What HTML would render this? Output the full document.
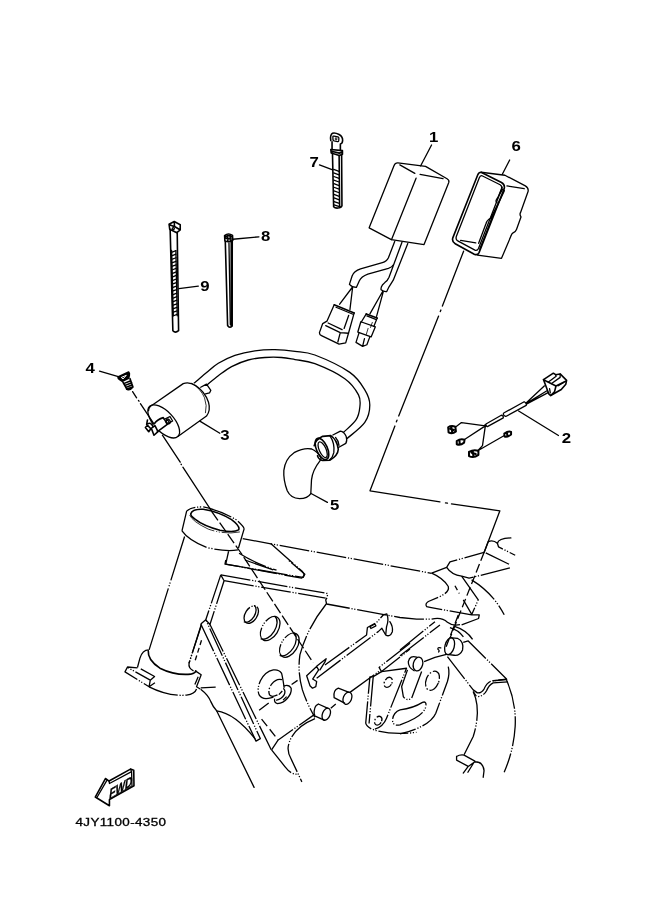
<!DOCTYPE html>
<html lang="en"><head><meta charset="utf-8"><title>4JY1100-4350 Electrical 2</title>
<style>
html,body{margin:0;padding:0;background:#fff;}
body{width:661px;height:913px;overflow:hidden;}
svg{display:block;will-change:transform;}
svg path,svg ellipse,svg circle{fill:none;stroke:#000;stroke-width:1.3;stroke-linecap:round;stroke-linejoin:round;}
svg .f{fill:#fff;}
svg .k{fill:#000;}
svg .t{stroke-width:0.8;}
svg .b{stroke-width:1.6;}
svg .p{stroke-dasharray:30 1.8 1.2 1.6 1.2 1.8;stroke-linecap:butt;}
svg .d{stroke-dasharray:5 3;stroke-linecap:butt;}
svg text{font-family:"Liberation Sans","DejaVu Sans",sans-serif;fill:#000;stroke:none;}
svg .n{font-weight:bold;font-size:14px;}
svg .code{font-size:10.5px;stroke:#000;stroke-width:.3px;}
svg .fwd{font-weight:bold;font-size:14.5px;stroke:#000;stroke-width:.4px;}
</style></head><body>
<svg width="661" height="913" viewBox="0 0 661 913">
<rect x="0" y="0" width="661" height="913" style="fill:#fff;stroke:none"/>
<g>
<path d="M393.98,165.68 Q395.11,162.69 397.85,162.81 L425.56,166.43 L447.03,178.79 Q449.52,180.16 448.77,182.41 L424.06,244.56 L391.36,239.69 L369.15,227.84 Z"/>
<path d="M399.85,164.93 L414.83,173.42 M420.07,174.42 L443.03,178.54 M416.07,178.16 L391.49,239.69"/>
<path d="M431.55,144.96 L420.57,165.93"/>
<path d="M319.47,164.93 L332.7,169.92"/>
</g>
<g>
<path class="b" d="M330.8,140.48 Q329.8,135.07 332.63,133.16 Q334.96,132.33 339.12,134.49 Q342.87,136.74 342.62,140.48 Q342.45,143.64 340.37,143.98 L340.37,149.8 M332.05,141.73 L332.05,149.22"/>
<path d="M332.88,136.74 Q332.88,135.9 334.13,136.07 L337.87,136.99 Q338.96,137.32 338.87,138.4 L338.71,140.9 Q338.54,141.73 337.46,141.56 L334.13,140.9 Q333.05,140.65 332.97,139.65 Z"/>
<path class="t" d="M337.04,138.15 L335.38,137.82 L335.21,139.48 L336.79,139.82 L336.88,138.98 L336.13,138.9"/>
<path class="b" d="M330.8,149.47 L342.45,150.63 L342.45,154.21 L339.29,155.46 L331.22,152.96 Z M331.47,151.3 L339.29,153.13 L342.28,152.13"/>
<path class="b" d="M332.47,152.96 L333.63,206.63 Q334.96,208.3 337.87,208.05 Q341.2,207.88 341.95,205.8 L341.62,154.63 M339.12,155.46 L339.62,207.46"/>
<path d="M333.71,169.35 L338.96,171.27 M333.71,172.93 L338.96,174.85 M333.8,176.51 L339.04,178.42 M333.8,180.09 L339.04,182 M333.88,183.67 L339.12,185.58 M333.88,187.24 L339.12,189.16 M333.96,190.82 L339.21,192.74 M333.96,194.4 L339.21,196.31 M334.05,197.98 L339.29,199.89 M334.05,201.56 L339.29,203.47 M334.13,204.97 L339.37,206.71"/>
</g>
<g>
<path d="M394.7,241.45 L388.41,257.79 Q386.84,261.42 382.36,262.63 L360.57,268.92 Q353.92,271.1 352.1,275.94 L349.44,284.41 Q352.1,287.44 356.34,287.44 L359.36,280.78 Q361.18,276.54 367.84,274.12 L388.41,268.44 Q392.28,267.23 393.25,265.05"/>
<path d="M401.97,242.29 L389.02,277.15 Q387.81,280.18 384.78,282.6 L382.36,285.02 Q380.54,287.44 381.15,289.86 Q383.57,291.92 386.6,291.67 L389.02,286.83 Q391.44,283.2 393.25,280.18 L407.78,243.5"/>
</g>
<g>
<path d="M352.36,287.26 L339.65,304.21 M352.6,287.5 L349.94,309.65 M382.62,291.5 L369.91,313.89 M383.22,291.86 L376.57,316.31"/>
<path class="b" d="M334.21,304.81 L354.18,312.92"/>
<path d="M336.02,307.23 L352.97,314.25"/>
<path d="M334.21,304.81 L326.94,321.15 L322.71,323.57 L319.44,332.65 Q319.44,334.7 321.5,335.67 L339.05,344.15 L345.7,342.93 L348.49,333.25 L354.18,312.92"/>
<path d="M328.15,322.97 L342.07,329.62 M325.73,325.63 L340.26,332.65 L348.49,333.25 M340.26,332.65 L337.84,341.97 M348.73,315.34 L344.13,328.41"/>
<path class="b" d="M366.28,313.89 L377.17,318.12"/>
<path d="M366.88,315.95 L376.32,319.58"/>
<path d="M366.28,313.89 L361.44,321.75 M377.17,318.12 L373.9,326.35"/>
<path d="M360.83,321.75 L375.36,326.84 L371.12,336.88 L357.81,332.04 Z"/>
<path d="M359.02,332.89 L355.99,342.33 L362.65,346.32 L366.88,344.75 L369.91,336.64 M364.46,338.7 L362.65,346.08"/>
<path class="t" d="M372.33,322.36 L370.51,327.44 M368.09,328.41 L366.28,334.46"/>
</g>
<g>
<path class="b" d="M481.08,172.25 L501.51,182.47 Q505.18,184.51 504.23,188.59 L479.04,252.59 Q477.68,255.58 474.27,254.22 L455.21,243.74 Q451.54,241.69 452.9,237.61 L477.68,174.98 Q478.77,172.25 481.08,172.25 Z"/>
<path d="M482.03,175.79 L500.14,184.78 Q502.46,186.14 501.51,189.14 L478.49,248.5 Q477.41,250.95 474.95,250.14 L458.21,241.15 Q455.35,239.65 456.3,236.52 L479.31,177.84 Q480.13,175.25 482.03,175.79 Z"/>
<path d="M481.08,172.25 L504.91,175.25 L525.33,185.87 Q528.87,187.91 528.06,191.59 L520.57,212.42 Q519.34,214.46 520.98,216.91 L516.48,229.44 Q515.8,231.48 513.08,232.84 Q511.44,234.21 511.04,235.84 L501.51,258.31 L477.41,255.04"/>
<path d="M506.95,185.87 L524.24,188.73 M460.66,240.33 L475.77,242.78"/>
<path d="M502.73,189.27 L496.47,199.49 Q495.38,201.53 497.01,202.48 M504.36,190.64 L491.97,217.19 M500.14,199.49 L490.61,218.28 Q486.94,219.91 485.85,223.99 L478.63,243.33 M492.93,215.14 L480.67,247.14 M491.29,219.91 L479.72,249.18 M502.19,187.23 L497.42,198.8"/>
<path d="M509.67,160 L502.32,174.3"/>
</g>
<g>
<path class="b" d="M169.06,224.26 L174.24,221.54 L180.23,224.8 L180.23,229.98 L176.82,232.7 L169.74,229.3 Z M174.24,221.81 L174.51,226.44 L179.95,229.7 M169.74,224.8 L174.51,226.71"/>
<circle cx="173.28" cy="228.62" r="1.09"/>
<path class="b" d="M170.15,229.3 L172.87,330.73 Q175.33,333.46 178.59,330.73 L177.23,232.7"/>
<path class="b" d="M171.51,250.67 L173.15,315.76"/>
<path d="M175.87,250.67 L177.23,315.76"/>
<path d="M172.19,252.03 L175.87,250.67 M172.33,255.57 L175.87,254.21 M172.33,259.11 L176.01,257.75 M172.47,262.66 L176.01,261.29 M172.47,266.2 L176.14,264.83 M172.6,269.74 L176.14,268.37 M172.6,273.28 L176.28,271.91 M172.74,276.82 L176.28,275.45 M172.87,280.36 L176.41,278.99 M172.87,283.9 L176.41,282.53 M173.01,287.44 L176.55,286.07 M173.01,290.98 L176.69,289.61 M173.15,294.52 L176.69,293.15 M173.15,298.06 L176.82,296.69 M173.28,301.6 L176.82,300.23 M173.28,305.14 L176.96,303.77 M173.42,308.68 L176.96,307.31 M173.42,312.22 L177.1,310.85 M173.56,315.76 L177.1,314.39"/>
<path d="M178.87,288.52 L198.34,286.07"/>
<path class="b" d="M224.61,235.7 Q228.29,232.43 232.51,235.42 L232.78,240.33 Q228.97,242.91 224.89,240.87 Z M225.57,236.79 Q228.7,234.74 231.69,236.79 M226.25,238.42 L231.42,238.96 M227.61,235.42 L227.88,240.87 M230.06,235.42 L230.33,241.14"/>
<path class="b" d="M225.3,241.55 L227.61,325.56 Q229.65,328.69 232.1,325.97 L232.24,240.87"/>
<path d="M228.97,242.91 L230.33,324.61"/>
<path d="M232.78,239.24 L258.93,236.79"/>
<path d="M231.69,241.41 L231.56,325.56" style="stroke-width:2.4"/>
</g>
<g>
<path d="M148.6,410.59 Q148.6,406.93 152.43,404.93 L183.21,383.63 Q189.04,381.3 195.7,385.63 Q205.18,391.95 208.51,402.27 Q210.84,410.59 206.51,416.08 L178.22,436.22"/>
<ellipse cx="163.74" cy="421.41" rx="20.64" ry="9.98" transform="rotate(47 163.74 421.41)"/>
<path d="M191.87,383.3 Q200.69,388.63 204.52,397.78 Q207.34,405.6 205.51,412.76" class="t"/>
<path d="M200.69,387.3 L206.51,384.13 L210.84,390.29 L209.51,392.95 L205.51,393.95"/>

<path d="M199.86,421.08 L219.83,433.23"/>
<path d="M99.51,371.15 L118.31,376.64"/>
<path class="b k" d="M117.98,376.98 L128.63,371.98 Q129.8,373.32 129.3,375.31 L128.63,378.31 L122.31,381.3 L119.64,379.64 Q117.98,378.64 117.98,376.98 Z"/>
<path style="stroke:#fff;stroke-width:1" d="M121.64,377.31 L126.3,375.31 L123.31,378.64 Z"/>
<path class="b" d="M122.97,382.3 L127.47,389.46 Q129.96,390.62 132.96,386.96 L129.96,378.64 M123.64,383.63 L130.79,380.64 M124.64,385.63 L131.63,382.64 M125.64,387.63 L132.29,384.8 M126.63,389.29 L132.79,386.63"/>
<path d="M162.41,435.22 L180.22,462.18 M181.05,464.18 L181.38,464.68 M182.88,467.17 L211.51,510.94"/>
</g>
<g>
<path d="M311.76,449 Q304.27,447.23 294.06,452.68 Q285.21,458.8 283.85,470.38 Q283.17,479.91 287.25,490.8 Q290.66,498.29 299.51,498.7 Q307.68,498.29 310.81,493.52 L311.49,479.91 Q312.44,470.38 319.93,460.85 Q321.57,458.8 320.61,457.03 Q317.48,451.59 311.76,449 Z"/>
<path class="b" d="M314.21,445.6 Q315.57,439.74 322.66,436.34 L330.82,435.66 Q336.95,439.74 338.31,449.27 Q337.9,455.67 329.74,460.3 L322.66,460.44 Q318.84,459.76 317.48,455.67"/>
<ellipse class="b" cx="321.97" cy="448.87" rx="5.45" ry="11.44" transform="rotate(-24 321.97 448.87)"/>
<ellipse cx="322.66" cy="449.68" rx="3.4" ry="8.44" transform="rotate(-24 322.66 449.68)"/>
<path d="M330.14,436.07 Q334.91,443.15 333.82,452.68 Q332.87,457.44 329.46,460.03"/>
<path d="M332.87,434.98 L340.36,431.16 Q344.17,431.57 346.21,436.61 Q347.44,440.7 345.8,443.42 L338.45,447.5 M335.59,437.43 Q338.45,440.42 338.99,445.33"/>
<path d="M311.08,493.52 L327.42,502.38"/>
</g>
<g>
<path d="M194.2,382.9 C196.3,381.2 202.6,375.8 206.6,372.5 C210.6,369.2 213.6,366.2 218.3,363.3 C223,360.4 228.8,357.4 234.9,355.3 C241,353.2 248.2,351.7 254.9,350.8 C261.6,349.9 268.2,349.6 274.9,349.7 C281.6,349.8 288.3,350.4 295,351.3 C301.7,352.2 305.8,351.5 314.9,355 C324,358.5 341.5,366.6 349.8,372.4 C358.1,378.2 361.5,384.5 364.8,389.9 C368.1,395.3 369.8,399.5 369.8,404.9 C369.8,410.3 368.6,416.8 364.8,422.4 C361,428 350.1,435.7 347.2,438.4"/><path d="M206.6,385.3 C208.6,383.7 214.1,378.9 218.3,375.8 C222.5,372.7 226.6,369.2 231.6,366.6 C236.6,364 242.6,361.5 248.2,360 C253.8,358.5 259.3,357.9 264.9,357.5 C270.4,357.1 276.5,357.1 281.5,357.5 C286.5,357.9 289.4,358.6 295,359.6 C300.6,360.6 306.6,360.5 314.9,363.7 C323.2,366.9 337.5,373.5 344.8,378.7 C352.1,383.9 356,390.1 358.5,394.9 C361,399.7 360.2,403.2 359.8,407.4 C359.4,411.6 358.7,415.8 356,419.9 C353.3,424 345.7,430.2 343.6,432.3"/>
</g>
<g>
<path d="M524.15,401.76 L503.72,413 Q502.29,415.04 505.76,416.47 L526.19,405.44 Q527,402.99 524.15,401.76 Z"/>
<path d="M501.27,415.24 L485.95,424.02 Q484.93,425.66 487.38,426.68 L503.31,417.9 Q503.72,415.65 501.27,415.24 Z"/>
<path d="M485.34,425.86 L461.44,422.59 L455.32,427.29 M485.34,425.86 L464.51,439.55 M485.34,425.86 L482.48,445.67 L477.78,450.78 L504.33,435.46"/>
<path style="stroke-width:2" d="M448.17,427.29 Q451.23,425.25 455.32,426.68 L455.93,431.38 Q452.25,434.44 448.58,432.4 Z M450.21,428.72 L453.89,429.95 M451.23,427.29 L452.25,432.4"/>
<path style="stroke-width:2" d="M456.75,440.98 Q460.42,438.52 464.51,439.75 L464.1,442.61 Q460.42,445.67 456.75,444.24 Z M459.4,440.16 L459.81,444.24"/>
<path style="stroke-width:2" d="M469,451.8 Q473.7,449.15 478.4,450.78 L478.4,454.86 Q473.7,458.54 469,456.09 Z M471.66,452.82 L475.74,454.05 M472.68,450.78 L473.49,456.91"/>
<path style="stroke-width:2" d="M504.33,433.62 Q508.42,430.76 511.07,431.99 L511.07,434.44 Q507.4,437.5 504.54,436.48 Z M506.99,432.81 L507.4,436.48"/>
<path d="M518.63,410.95 L558.46,435.46"/>
<circle class="k" cx="485.34" cy="425.66" r="0.82"/>
</g>
<g>
<path class="p" d="M181.98,530.78 L186.64,511.14 Q191.3,506.65 203.28,506.98 Q219.92,510.31 236.57,519.96 Q244.55,526.95 244.05,529.11 L237.9,549.92"/>
<path class="p" d="M181.98,530.78 Q188.31,539.93 206.61,547.42 Q224.92,551.91 237.9,549.92"/>
<path class="b" d="M190.8,513.64 Q192.47,508.65 203.28,509.31 Q218.26,511.64 231.57,519.63 Q240.73,526.62 238.56,529.95 Q234.07,532.94 219.92,530.28 Q203.28,525.79 194.96,519.13 Q190.3,515.8 190.8,513.64 Z"/>
<path class="p" d="M189.64,514.97 Q192.47,521.63 208.28,529.11 Q224.92,534.94 239.89,531.94" style="stroke-width:.8"/>
<path class="p" d="M228.58,551.25 L225.75,564.06"/>
<path class="p" d="M239.06,553.25 Q256.54,564.06 276.51,570.22"/>
<path class="p" d="M220.76,574.88 L205.78,619.81 L209.94,624.47 L224.08,580.7 M220.76,574.88 L224.08,580.7"/>
<path class="p" d="M205.78,619.81 L200.79,623.97"/>
</g>
<g>
<path class="p" d="M148.6,649.86 Q142.44,649.86 139.95,658.18 L137.45,667.5"/>
<path class="b" d="M148.27,650.7 Q147.44,659.85 159.92,668.17 Q174.89,675.66 190.7,674.16 Q195.7,673.16 195.7,670.83"/>
<path class="p" d="M137.45,667.84 L127.47,667 L124.97,671.83 L149.1,686.81 L150.26,680.15 L127.47,667.34 M140.78,668.84 L154.59,676.49 L150.26,680.15 M149.1,686.81 L154.92,682.81"/>
<path class="p" d="M149.1,686.81 Q168.24,696.46 186.54,695.13 Q194.86,693.96 196.53,688.97"/>
<path class="p" d="M195.7,671.16 L201.19,674.83 L196.53,686.81 L200.19,688.97 M198.19,676.82 L194.86,684.48"/>
<path class="p" d="M200.69,687.81 L215.67,687.14"/>
<path class="p" d="M201.52,624.9 L189.04,663.18 Q188.21,668.5 193.53,670.83"/>
<path class="d" d="M201.52,640.21 L194.86,661.51"/>
</g>
<g>
<path class="p" d="M184.6,536.5 L149.1,649.9" style="stroke-dasharray:46 2.2 1.2 1.6 1.2 2.2 200"/>
<path class="p" d="M200.8,624 L256,741.1 L260.3,738.6 L205.8,619.8"/>
<path class="p" d="M210,624.5 L271.2,749.8"/>
<path class="p" d="M201.3,624.5 L189,663.2"/>
</g>
<g>
<ellipse class="p" cx="251.26" cy="614.58" rx="5.99" ry="9.65" transform="rotate(32 251.26 614.58)"/>
<path d="M254.43,605.6 A5.99,9.65 32 0 1 244.27,621.91"/>
<ellipse class="p" cx="270.23" cy="628.56" rx="7.99" ry="13.31" transform="rotate(32 270.23 628.56)"/>
<path d="M275.06,616.41 A7.99,13.31 32 0 1 261.08,638.88"/>
<ellipse class="p" cx="289.37" cy="645.2" rx="7.99" ry="13.31" transform="rotate(32 289.37 645.2)"/>
<path d="M294.2,633.06 A7.99,13.31 32 0 1 280.22,655.52"/>
<path class="p" d="M225.8,560 L224.97,564.16 L303.18,577.47 L304.85,574.15 L288.21,560"/>
<path class="p" d="M244.94,560 L273.23,569.98"/>
</g>
<g>
<path class="p" d="M242.7,538.6 L431.6,573.3"/>
<path class="p" d="M270.7,543.6 L302.5,571.6 Q305.8,575.5 301.6,578.2 L225.8,564.1"/>
<path class="p" d="M220.8,574.9 L327.4,593.5 L327.4,597.4 L325.7,599.9 L326.6,604 L400,617.5 L416.6,619.2 L431.6,619.2"/>
<path class="p" d="M224.1,580.7 L325.7,598.2"/>
<path class="p" d="M326.2,604 Q307.4,627.4 299.9,654.9 Q297.4,672.4 302.4,689.9 Q307.4,704.8 314.9,717.3"/>
</g>
<g>
<path class="d" d="M484.08,552.42 L449.97,638.12" style="stroke-dasharray:9 3.5"/>
<path class="p" d="M431.66,573.22 L446.64,567.4 L449.97,561.91 L484.08,552.42"/>
<path class="p" d="M484.08,552.42 L488.25,541.6 Q493.24,539.61 497.4,543.27 L498.56,546.93 L515.2,555.25 M485.75,552.92 L509.05,564.24"/>
<path d="M497.4,543.27 Q498.56,538.28 510.88,537.94"/>
<path class="p" d="M446.64,567.4 Q451.63,574.89 461.62,576.22 L469.11,578.21 L510.21,567.9"/>
<path class="p" d="M461.62,576.22 L478.26,599.85 L471.6,614.83 L430,607.34 M463.28,599.85 L471.6,614.16 M471.6,614.83 L479.26,614.83 L478.59,618.49 L461.62,624.81"/>
<path class="p" d="M471.6,579.88 Q493.24,593.19 504.22,614.83"/>
<path class="d" d="M454.96,585.7 L459.29,593.52"/>
<path class="p" d="M431.66,573.22 Q443.31,578.21 448.31,586.54 Q449.64,591.86 439.98,596.52 L428.34,601.51 Q424.67,604.01 426.67,606.67 L430,607.34"/>
</g>
<g>
<path d="M306.66,675.73 L316.64,666.58 L318.64,669.91 L312.65,679.06 L316.64,681.56 L315.81,686.55 L312.48,688.21 L309.98,685.72 Z"/>
<path d="M316.64,666.25 L326.13,658.76 L324.96,661.92 L319.97,669.91"/>
<path class="p" d="M324.96,664.92 L366.57,634.96 L367.4,627.47 L376.55,622.48 L383.21,614.99"/>
<path d="M383.21,614.99 L386.87,613.99 Q389.2,619.98 386.54,626.64 L385.7,634.96 Q389.86,637.62 392.36,631.63 Q393.19,626.64 389.86,621.65"/>
<path class="p" d="M316.64,678.23 L378.21,631.63 L381.88,628.31 L385.7,634.96"/>
<path d="M369.89,626.64 L374.89,623.98 L375.89,625.81 L370.89,628.47 Z"/>
<path d="M318.31,704.02 L327.46,708.18 M314.15,715.67 L324.13,720.17 M318.31,704.02 Q313.31,705.69 314.15,715.67"/>
<ellipse cx="326.29" cy="714.18" rx="3.83" ry="6.32" transform="rotate(22 326.29 714.18)"/>
<path d="M338.28,688.21 L349.09,692.38 M334.11,697.7 L344.6,703.19 M338.28,688.21 Q332.95,690.21 334.11,697.7"/>
<ellipse cx="347.43" cy="698.2" rx="4.16" ry="6.32" transform="rotate(22 347.43 698.2)"/>
<path class="p" d="M330.79,708.18 L335.78,704.02 M349.92,692.38 L379.88,670.74"/>
<path class="p" d="M410,643.28 L379.05,667.41 L381.54,671.57 L410,649.11"/>
<path class="p" d="M381.54,671.57 L373.22,676.57 L369.89,676.9 L365.73,723.16 Q366.57,726.49 371.56,728.99 Q389.86,735.64 416.49,732.31"/>
<path class="p" d="M373.22,676.57 L369.06,723.49"/>
<path class="p" d="M381.54,671.57 L406.51,668.25 L386.54,718.17 Q383.21,726.49 374.89,729.15"/>
<ellipse class="p" cx="388.2" cy="682.39" rx="3.66" ry="5.33" transform="rotate(30 388.2 682.39)" style="stroke-dasharray:9 2 1.5 2"/>
<ellipse class="p" cx="378.21" cy="720.67" rx="3.33" ry="4.66" transform="rotate(30 378.21 720.67)" style="stroke-dasharray:9 2 1.5 2"/>
</g>
<g>
<path class="p" d="M431.62,619.15 Q441.6,616.66 447.43,622.31 Q452.42,626.31 460.24,624.64"/>
<path class="d" d="M458.25,614.99 L444.93,649.94" style="stroke-dasharray:9 3.5"/>
<path class="p" d="M453.25,625.81 Q466.57,629.97 472.56,639.29 M449.92,627.64 Q458.25,629.97 463.4,636.79"/>
<ellipse cx="449.59" cy="646.28" rx="4.66" ry="8.65" transform="rotate(15 449.59 646.28)"/>
<path d="M449.92,637.62 L457.41,638.29 Q464.24,641.62 462.57,649.94 Q459.91,655.93 454.08,655.26 L449.09,654.6"/>
<path d="M440.77,647.94 Q437.44,646.94 437.94,649.27 Q439.94,650.77 438.61,651.94"/>
<path class="p" d="M463.24,642.45 L468.23,640.95 L506.51,679.06 L499.85,679.89 L490.7,681.23 Q486.54,683.22 484.04,689.05 Q481.54,693.21 477.38,692.87 L473.22,689.88 L447.43,656.6"/>
<path class="p" d="M507.84,681.89 L493.19,682.89 Q489.03,684.89 486.54,690.71 Q483.21,696.87 476.55,696.54 L473.22,691.54"/>
<path class="b" d="M493.19,680.73 L506.51,679.56"/>
<path class="p" d="M473.22,691.54 Q481.54,709.85 473.22,736.48 L464.07,754.78"/>
<path class="p" d="M506.51,679.89 Q516.49,703.19 515.16,726.49 Q513.83,749.79 504.18,772.25"/>
<path d="M456.58,756.44 Q459.91,754.45 464.07,755.11 L474.89,761.1 M456.58,756.44 L456.58,760.11 L468.23,766.43 L474.89,761.77 M468.23,766.43 L463.24,773.09 M474.05,762.27 L467.9,772.25 M474.89,761.77 Q483.21,761.77 484.04,770.59 L483.21,777.25"/>
<path class="p" d="M424.13,661.59 L434.95,657.43 L447.43,654.1 M448.26,666.58 Q449.92,673.24 447.43,681.56 L435.78,713.18 Q429.95,726.49 400,733.98"/>
<ellipse class="p" cx="432.45" cy="680.73" rx="6.32" ry="9.98" transform="rotate(22 432.45 680.73)" style="stroke-dasharray:12 2 1.5 2"/>
<path class="p" d="M400,709.85 Q413.31,708.18 422.47,702.36 Q426.96,700.7 425.79,706.85 Q423.3,716.51 400,724.83 Q392.51,726.49 392.51,719.83 Q393.34,712.34 400,709.85"/>
<path class="p" d="M407.49,669.91 L401.66,686.55 L403.33,696.54 Q406.66,701.53 411.65,698.2 L421.63,671.57"/>
<ellipse cx="417.97" cy="664.08" rx="4.66" ry="6.99" transform="rotate(15 417.97 664.08)"/>
<path d="M416.64,657.1 Q409.98,654.93 408.32,661.59 Q407.99,667.41 414.15,670.74"/>
<path class="p" d="M400,649.94 L434.95,621.65 M400,655.76 L439.94,624.98"/>
</g>
<g>
<path class="p" d="M200.67,689.15 Q208.33,694.98 210.82,701.63 Q213.32,707.46 216.65,710.79"/>
<path d="M216.65,710.79 L254.09,787.34"/>
<path d="M216.65,710.79 Q234.95,713.28 254.92,738.58"/>
<path class="d" d="M261.58,719.11 L278.22,739.91" style="stroke-dasharray:9 4"/>
<path class="p" d="M271.57,749.89 L278.22,739.91 L315,714.11"/>
<path class="p" d="M315,718.61 Q291.54,728.26 288.21,746.57 Q287.38,753.22 291.54,759.88 L301.85,781.85"/>
<path class="p" d="M271.57,749.89 L284.88,766.54 Q291.54,775.19 297.53,774.02"/>
</g>
<g>
<path d="M463.6,251.2 L442.4,306.1 M440.9,310 L440.3,311.6 M438.6,316.1 L398.7,416 M397,420.2 L396.4,421.8 M394.9,426 L370,490.8 L439.9,501.9 M445.5,502.9 L447.5,503.2 M451.5,503.9 L499.9,510.8 L484.1,552.4"/>
<path d="M132.6,391.6 L136.6,397.8 M138.4,400.4 L139,401.2 M140.4,403.7 L154.1,424.1"/>
<path class="d" d="M211.6,511.3 L241,553 L291.5,629.9 L313,662.5" style="stroke-dasharray:11 3"/>
</g>
<g>
<path class="b" d="M95.27,797.04 L105.43,778.52 L109.07,781.07 L130.49,769.08 L133.75,770.17 L133.97,785.79 L109.43,799.58 L109.43,805.75 Z"/>
<path d="M97.08,797.26 L107.03,780.12 M109.43,783.46 L131.58,771.62 L131.94,785.2 M130.49,769.08 L131.58,771.62 M109.07,781.07 L109.43,783.46"/>
<path class="t" d="M110.3,798.13 L131.94,785.79"/>
</g>
<g>
<path class="p" d="M281.62,673.31 Q278.71,669.15 273.3,669.98 Q264.98,671.65 260.4,680.8 Q256.66,689.12 259.15,694.95 Q262.48,700.36 270.8,697.86 L273.46,697.03"/>
<path d="M281.62,673.31 Q282.87,678.31 284.11,687.46"/>
<path class="p" d="M282.03,679.72 Q276.63,677.89 271.63,684.13 Q267.47,689.95 269.55,694.95 Q271.8,697.61 277.46,694.95" style="stroke-dasharray:14 2 1.5 2"/>
<path d="M284.11,685.79 Q289.11,684.13 291.19,688.29 Q291.77,693.28 287.44,698.28 Q283.28,703.27 277.46,703.68 Q274.13,702.85 274.55,699.11"/>
<path d="M283.7,688.71 Q285.95,690.95 284.11,694.95 Q281.62,699.11 276.63,700.11"/>
<path class="d" d="M282.28,690.95 L278.71,694.78 M286.61,696.61 L282.87,700.36"/>
<path class="d" d="M259.15,710.34 L269.55,702.44 M291.6,684.55 L297.59,680.39" style="stroke-dasharray:12 4"/>
</g>
<g>
<path class="f" style="stroke:none" d="M145.4,427.45 L147.48,425.12 L149.98,427.03 L154.97,423.71 L162.46,417.63 L169.95,416.47 L172.61,420.96 L157.88,432.03 L153.97,435.44 L151.31,432.03 L148.73,431.78 Z"/>
<path class="b" d="M145.4,427.45 L147.48,425.2 L150.81,428.7 L148.73,431.69 Z"/>
<path class="b" d="M151.31,428.28 L154.97,425.62 L157.97,431.61 L153.97,435.27 Z"/>
<path class="b" d="M148.15,423.71 Q149.56,422.46 151.64,424.29 L152.89,426.2 M147.48,419.96 L146.65,424.29"/>
<path class="b" d="M154.3,423.71 Q157.47,419.3 163.29,417.63 L164.29,419.3 M157.47,431.61 L167.62,424.12"/>
<path d="M164.29,419.3 L169.95,416.47 L172.61,420.96 L166.95,424.29 Z"/>
<ellipse cx="168.12" cy="421.46" rx="2" ry="2.5" transform="rotate(-35 168.12 421.46)"/>
<ellipse cx="167.62" cy="421.79" rx="1.16" ry="1.66" transform="rotate(-35 167.62 421.79)"/>
</g>
<g>
<path class="b" d="M543.51,379.62 L553.34,373.19 L555.61,374.7 L560.15,373.94 L566.58,380.37 L565.82,384.15 L561.28,389.45 L550.69,395.5 L548.8,393.99 L545.78,385.67 Z"/>
<path class="b" d="M543.51,379.62 L546,380.98 L555.99,386.05 L554.48,391.87 L550.69,395.5 M555.99,386.05 L566.2,380.98"/>
<path d="M548.42,382.04 L556.14,376.21 L555.61,374.7 M551.6,383.55 L560.15,377.35 L560.15,373.94 M558.26,385.82 L563.55,382.49 M549.56,388.69 L550.31,392.85"/>
<path d="M544.49,385.82 L526.11,402.91 M546.53,390.96 L526.49,403.37 M548.57,392.32 L526.87,403.82"/>
</g>
<text class="n" transform="translate(433.6,142) scale(1.2,1)" text-anchor="middle">1</text>
<text class="n" transform="translate(516.2,150.7) scale(1.2,1)" text-anchor="middle">6</text>
<text class="n" transform="translate(314.2,167.4) scale(1.2,1)" text-anchor="middle">7</text>
<text class="n" transform="translate(265.6,241.2) scale(1.2,1)" text-anchor="middle">8</text>
<text class="n" transform="translate(205,290.7) scale(1.2,1)" text-anchor="middle">9</text>
<text class="n" transform="translate(90.2,373) scale(1.2,1)" text-anchor="middle">4</text>
<text class="n" transform="translate(225,439.9) scale(1.2,1)" text-anchor="middle">3</text>
<text class="n" transform="translate(334.7,510.1) scale(1.2,1)" text-anchor="middle">5</text>
<text class="n" transform="translate(566.4,443) scale(1.2,1)" text-anchor="middle">2</text>
<text class="code" transform="translate(75.5,826.4) scale(1.28,1)" textLength="70.7" lengthAdjust="spacing">4JY1100-4350</text>
<text class="fwd" transform="matrix(0.70,-0.42,-0.126,1,108.7,799.2)">FWD</text>
</svg>
</body></html>
